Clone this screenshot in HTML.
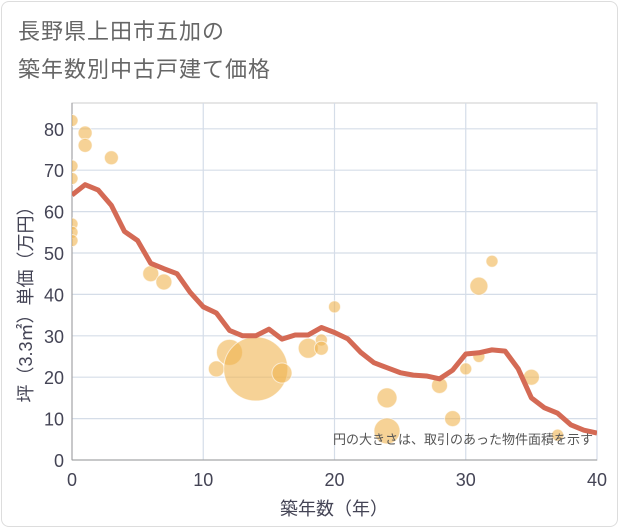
<!DOCTYPE html><html><head><meta charset="utf-8"><style>
body{margin:0;background:#fff;font-family:"Liberation Sans","Noto Sans CJK JP",sans-serif}
#card{position:absolute;left:1px;top:1px;width:617px;height:526px;border:1px solid #ddd;border-radius:8px;box-sizing:border-box}
.t{position:absolute;left:18px;font-size:22px;color:#666;letter-spacing:1px}
</style></head><body>
<div id="card"></div>
<div class="t" style="top:14px">長野県上田市五加の</div>
<div class="t" style="top:52px">築年数別中古戸建て価格</div>
<svg id="c" width="621" height="530" style="position:absolute;left:0;top:0"><defs><clipPath id="pc"><rect x="72" y="103" width="525" height="357"/></clipPath></defs></svg>
<script>
const xTicks=[0,10,20,30,40];
const yTicks=[0,10,20,30,40,50,60,70,80];
const lineYears=[0,1,2,3,4,5,6,7,8,9,10,11,12,13,14,15,16,17,18,19,20,21,22,23,24,25,26,27,28,29,30,31,32,33,34,35,36,37,38,39,40];
const lineValues=[64,66.5,65.2,61.5,55.2,53,47.5,46.2,45,40.5,37,35.5,31.3,30,30,31.6,29.2,30.2,30.2,32,30.8,29.3,26,23.5,22.3,21.1,20.5,20.3,19.6,21.7,25.6,25.9,26.6,26.3,22,15,12.6,11.3,8.5,7.2,6.5];
const bubbleX=[0,1,1,3,0,0,0,0,0,6,7,11,12,14,16,18,19,19,20,24,24,28,29,30,31,31,32,35,37];
const bubbleY=[82,79,76,73,71,68,57,55,53,45,43,22,26,22,21,27,29,27,37,15,7,18,10,22,25,42,48,20,6];
const bubbleR=[6,7,7,7,6,6,6,6,6,8,8,8,13,32,10,10,6,7,6,10,13,8,8,6,6,9,6,8,6];
const svg=document.getElementById('c'),NS='http://www.w3.org/2000/svg';
const X=v=>72+v*13.125, Y=v=>460-v*4.14;
function mk(t,a,p){const e=document.createElementNS(NS,t);for(const k in a)e.setAttribute(k,a[k]);(p||svg).appendChild(e);return e;}
mk('rect',{x:72,y:103,width:525,height:357,fill:'none',stroke:'#ccc'});
yTicks.forEach(v=>{const l=mk('line',{x1:72,x2:597,y1:Y(v),y2:Y(v),stroke:'#d5dde8','stroke-width':1.2});

const t=mk('text',{x:64,y:Y(v)+7,'text-anchor':'end','font-size':18,fill:'#445'});t.textContent=v;
});
xTicks.forEach(v=>{const l=mk('line',{x1:X(v),x2:X(v),y1:103,y2:460,stroke:'#d5dde8','stroke-width':1.2});

const t=mk('text',{x:X(v),y:486,'text-anchor':'middle','font-size':18,fill:'#445'});t.textContent=v;
});
mk('line',{x1:72,x2:597,y1:460,y2:460,stroke:'#999'});mk('line',{x1:72,x2:72,y1:103,y2:460,stroke:'#999'});
const g=mk('g',{'clip-path':'url(#pc)'});
bubbleX.forEach((v,i)=>{const c=mk('circle',{cx:X(v),cy:Y(bubbleY[i]),r:bubbleR[i],fill:'rgba(240,180,80,0.6)',stroke:'rgba(255,255,255,0.6)'},g);
});
const p=mk('polyline',{points:lineYears.map((v,i)=>X(v)+','+Y(lineValues[i])).join(' '),fill:'none',stroke:'#d46a55','stroke-width':5,'stroke-linejoin':'round'},g);

const n=mk('text',{x:593,y:444,'text-anchor':'end','font-size':13,fill:'#555'});n.textContent='円の大きさは、取引のあった物件面積を示す';

const xt=mk('text',{x:334,y:515,'text-anchor':'middle','font-size':18,fill:'#445'});xt.textContent='築年数（年）';

const yt=mk('text',{x:0,y:0,'text-anchor':'middle','font-size':18,fill:'#445',transform:'translate(32,300) rotate(-90)'});yt.textContent='坪（3.3㎡）単価（万円）';

</script></body></html>
